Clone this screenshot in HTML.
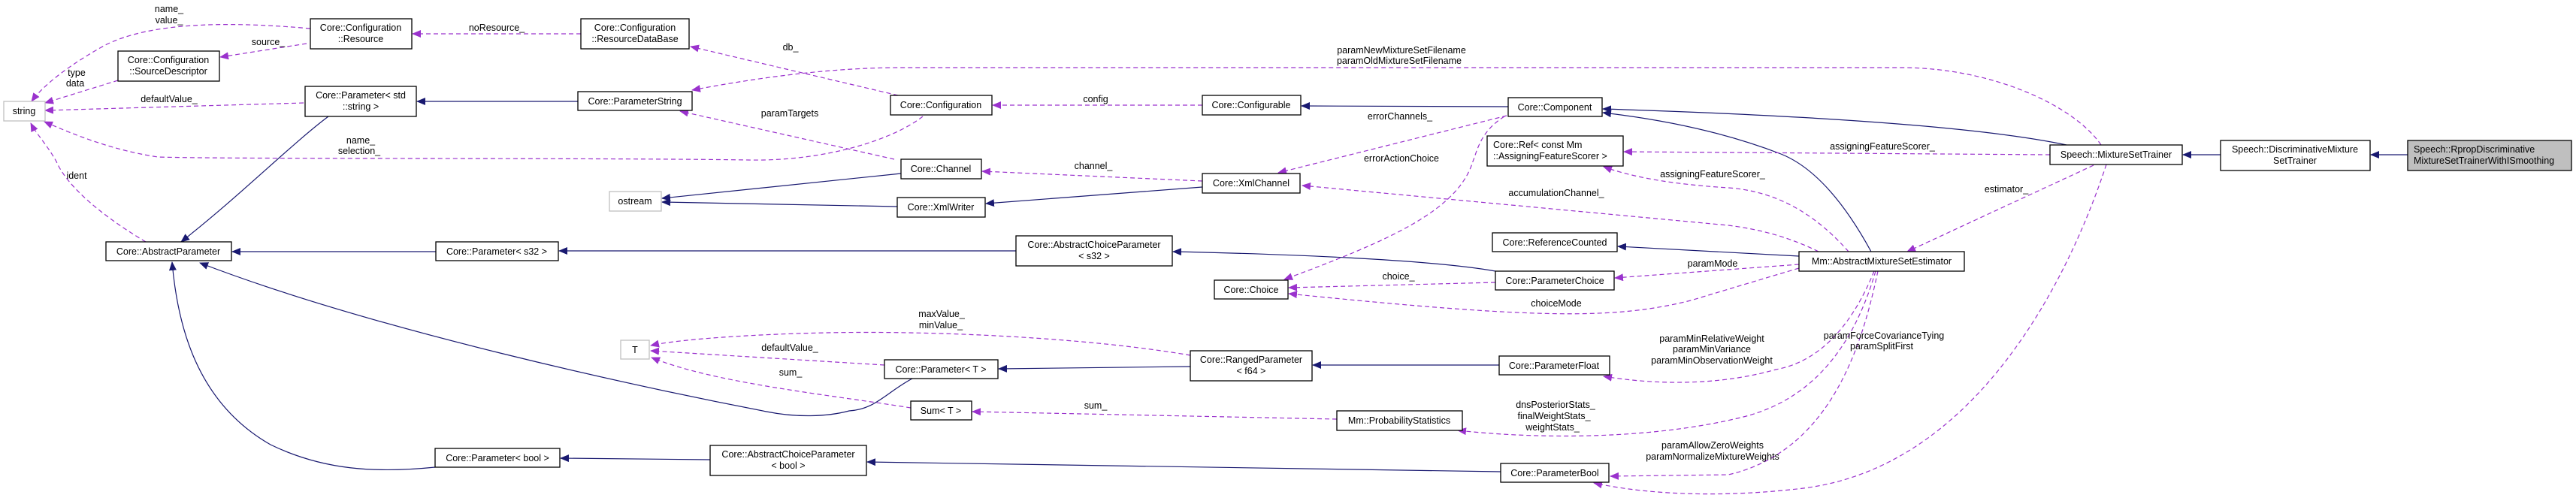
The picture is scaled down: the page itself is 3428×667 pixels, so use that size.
<!DOCTYPE html>
<html><head><meta charset="utf-8"><style>
html,body{margin:0;padding:0;background:#fff;}
svg{display:block;}
text{font-family:"Liberation Sans",Helvetica,Arial,sans-serif;font-size:12.5px;fill:#000;}
.n{fill:#fff;stroke:#000;stroke-width:1.3;}
.g{fill:#fff;stroke:#bfbfbf;stroke-width:1.3;}
.s{fill:none;stroke:#191970;stroke-width:1.2;}
.d{fill:none;stroke:#9a32cd;stroke-width:1.2;stroke-dasharray:6,4;}
</style></head><body>
<svg width="3428" height="667" viewBox="0 0 3428 667" xmlns="http://www.w3.org/2000/svg">
<defs>
<marker id="as" markerWidth="12" markerHeight="10" refX="11" refY="5" orient="auto" markerUnits="userSpaceOnUse"><path d="M0,0 L12,5 L0,10 z" fill="#191970"/></marker>
<marker id="ad" markerWidth="12" markerHeight="10" refX="11" refY="5" orient="auto" markerUnits="userSpaceOnUse"><path d="M0,0 L12,5 L0,10 z" fill="#9a32cd"/></marker>
</defs>

<!-- solid inheritance edges -->
<g class="s" marker-end="url(#as)">
<path d="M437,155 C390,190 320,260 241,322"/>
<path d="M769,135 L555,135"/>
<path d="M580,335 L309,335"/>
<path d="M1214,504 C1180,522 1165,545 1130,547 C1100,555 1060,556 1020,548 C850,515 500,440 266,350"/>
<path d="M579,622 C500,630 430,626 360,592 C260,535 236,430 229,349"/>
<path d="M1352,334 L744,334"/>
<path d="M1199,231 L881,264"/>
<path d="M1194,275 L881,269"/>
<path d="M1600,249 L1312,271"/>
<path d="M2007,142 L1732,141"/>
<path d="M2750,193 C2650,172 2450,155 2133,145"/>
<path d="M2490,335 C2460,280 2420,225 2370,205 C2300,178 2220,160 2133,150"/>
<path d="M2394,341 L2153,328"/>
<path d="M1990,361 C1900,345 1700,338 1561,335"/>
<path d="M1584,488 L1329,491"/>
<path d="M1995,486 L1747,486"/>
<path d="M945,612 L746,610"/>
<path d="M1997,628 L1154,615"/>
<path d="M2955,206 L2905,206"/>
<path d="M3204,206 L3155,206"/>
</g>

<!-- dashed usage edges -->
<g class="d" marker-end="url(#ad)">
<path d="M413,38 C300,28 200,30 140,60 C100,82 60,110 42,135"/>
<path d="M408,58 L293,76"/>
<path d="M157,107 L60,137"/>
<path d="M404,137 L60,147"/>
<path d="M1228,155 C1190,185 1100,215 996,213 C800,210 300,212 210,209 C150,200 100,180 59,162"/>
<path d="M194,322 C140,290 90,250 75,215 C62,192 48,178 41,164"/>
<path d="M773,45 L549,45"/>
<path d="M1195,127 L919,62"/>
<path d="M2796,193 C2760,140 2650,90 2530,90 L1200,90 C1100,90 1000,105 921,120"/>
<path d="M1190,212 L905,148"/>
<path d="M1600,140 L1321,140"/>
<path d="M1600,241 L1307,228"/>
<path d="M2005,154 L1701,230"/>
<path d="M2002,155 C1970,175 1966,200 1960,215 C1940,280 1850,320 1709,372"/>
<path d="M2460,335 C2420,290 2370,255 2300,250 C2220,245 2170,235 2134,222"/>
<path d="M2728,206 L2161,202"/>
<path d="M2786,220 L2538,335"/>
<path d="M2420,335 C2380,315 2340,305 2300,300 L1733,247"/>
<path d="M1990,376 L1715,383"/>
<path d="M2394,357 C2350,370 2300,385 2250,400 C2150,425 2050,425 1715,391"/>
<path d="M2394,352 L2149,370"/>
<path d="M1584,473 C1450,450 1250,440 1100,443 C1000,445 900,452 866,460"/>
<path d="M1177,486 L866,467"/>
<path d="M1212,543 C1100,525 950,510 867,476"/>
<path d="M1779,558 L1294,548"/>
<path d="M2494,361 C2470,420 2430,480 2363,492 C2300,510 2220,515 2134,501"/>
<path d="M2496,361 C2470,450 2420,530 2320,555 C2200,585 2050,585 1940,573"/>
<path d="M2499,361 C2480,450 2440,600 2300,632 L2143,634"/>
<path d="M2803,219 C2760,350 2640,620 2400,650 C2300,662 2200,660 2121,643"/>
</g>

<!-- edge labels -->
<g text-anchor="middle">
<text x="225" y="16">name_</text><text x="225" y="31">value_</text>
<text x="357" y="60">source_</text>
<text x="102" y="101">type</text><text x="100" y="115">data</text>
<text x="225" y="136">defaultValue_</text>
<text x="480" y="191">name_</text><text x="478" y="205">selection_</text>
<text x="102" y="238">ident</text>
<text x="661" y="41">noResource_</text>
<text x="1052" y="67">db_</text>
<text x="1865" y="71">paramNewMixtureSetFilename</text><text x="1862" y="85">paramOldMixtureSetFilename</text>
<text x="1051" y="155">paramTargets</text>
<text x="1458" y="136">config</text>
<text x="1455" y="225">channel_</text>
<text x="1863" y="159">errorChannels_</text>
<text x="1865" y="215">errorActionChoice</text>
<text x="2279" y="236">assigningFeatureScorer_</text>
<text x="2505" y="199">assigningFeatureScorer_</text>
<text x="2670" y="256">estimator_</text>
<text x="2071" y="261">accumulationChannel_</text>
<text x="1861" y="372">choice_</text>
<text x="2071" y="408">choiceMode</text>
<text x="2279" y="355">paramMode</text>
<text x="1253" y="422">maxValue_</text><text x="1252" y="437">minValue_</text>
<text x="1051" y="467">defaultValue_</text>
<text x="1052" y="500">sum_</text>
<text x="1458" y="544">sum_</text>
<text x="2278" y="455">paramMinRelativeWeight</text><text x="2278" y="469">paramMinVariance</text><text x="2278" y="484">paramMinObservationWeight</text>
<text x="2070" y="543">dnsPosteriorStats_</text><text x="2068" y="558">finalWeightStats_</text><text x="2066" y="573">weightStats_</text>
<text x="2279" y="597">paramAllowZeroWeights</text><text x="2279" y="612">paramNormalizeMixtureWeights</text>
<text x="2507" y="451">paramForceCovarianceTying</text><text x="2504" y="465">paramSplitFirst</text>
</g>

<!-- nodes -->
<rect class="g" x="5" y="135" width="55" height="26"/>
<rect class="n" x="413" y="25" width="135" height="40"/>
<rect class="n" x="157" y="68" width="135" height="40"/>
<rect class="n" x="406" y="115" width="148" height="40"/>
<rect class="n" x="141" y="322" width="167" height="25"/>
<rect class="n" x="580" y="322" width="163" height="25"/>
<rect class="n" x="579" y="597" width="166" height="25"/>
<rect class="n" x="773" y="25" width="144" height="40"/>
<rect class="n" x="769" y="122" width="152" height="25"/>
<rect class="n" x="1185" y="127" width="135" height="26"/>
<rect class="n" x="1199" y="212" width="107" height="26"/>
<rect class="g" x="811" y="255" width="69" height="26"/>
<rect class="n" x="1194" y="263" width="117" height="26"/>
<rect class="n" x="1352" y="314" width="208" height="40"/>
<rect class="g" x="826" y="453" width="38" height="25"/>
<rect class="n" x="1177" y="479" width="151" height="25"/>
<rect class="n" x="1212" y="534" width="81" height="25"/>
<rect class="n" x="945" y="593" width="208" height="40"/>
<rect class="n" x="1600" y="127" width="131" height="26"/>
<rect class="n" x="2007" y="130" width="125" height="25"/>
<rect class="n" x="1979" y="181" width="181" height="40"/>
<rect class="n" x="1600" y="231" width="130" height="26"/>
<rect class="n" x="1986" y="310" width="166" height="25"/>
<rect class="n" x="1616" y="373" width="98" height="25"/>
<rect class="n" x="1990" y="361" width="158" height="25"/>
<rect class="n" x="1584" y="467" width="162" height="40"/>
<rect class="n" x="1995" y="474" width="147" height="25"/>
<rect class="n" x="1779" y="547" width="167" height="26"/>
<rect class="n" x="1997" y="617" width="144" height="25"/>
<rect class="n" x="2728" y="193" width="176" height="26"/>
<rect class="n" x="2955" y="187" width="199" height="40"/>
<rect x="3204" y="187" width="218" height="40" fill="#bfbfbf" stroke="#000" stroke-width="1.3"/>
<rect class="n" x="2394" y="335" width="220" height="26"/>

<g text-anchor="middle">
<text x="32" y="152">string</text>
<text x="480" y="41">Core::Configuration</text><text x="480" y="56">::Resource</text>
<text x="224" y="84">Core::Configuration</text><text x="224" y="99">::SourceDescriptor</text>
<text x="480" y="131">Core::Parameter&lt; std</text><text x="480" y="146">::string &gt;</text>
<text x="224" y="339">Core::AbstractParameter</text>
<text x="661" y="339">Core::Parameter&lt; s32 &gt;</text>
<text x="662" y="614">Core::Parameter&lt; bool &gt;</text>
<text x="845" y="41">Core::Configuration</text><text x="845" y="56">::ResourceDataBase</text>
<text x="845" y="139">Core::ParameterString</text>
<text x="1252" y="144">Core::Configuration</text>
<text x="1252" y="229">Core::Channel</text>
<text x="845" y="272">ostream</text>
<text x="1252" y="280">Core::XmlWriter</text>
<text x="1456" y="330">Core::AbstractChoiceParameter</text><text x="1456" y="345">&lt; s32 &gt;</text>
<text x="845" y="470">T</text>
<text x="1252" y="496">Core::Parameter&lt; T &gt;</text>
<text x="1252" y="551">Sum&lt; T &gt;</text>
<text x="1049" y="609">Core::AbstractChoiceParameter</text><text x="1049" y="624">&lt; bool &gt;</text>
<text x="1665" y="144">Core::Configurable</text>
<text x="2069" y="147">Core::Component</text>
<text x="1665" y="248">Core::XmlChannel</text>
<text x="2069" y="327">Core::ReferenceCounted</text>
<text x="1665" y="390">Core::Choice</text>
<text x="2069" y="378">Core::ParameterChoice</text>
<text x="1665" y="483">Core::RangedParameter</text><text x="1665" y="498">&lt; f64 &gt;</text>
<text x="2068" y="491">Core::ParameterFloat</text>
<text x="1862" y="564">Mm::ProbabilityStatistics</text>
<text x="2069" y="634">Core::ParameterBool</text>
<text x="2816" y="210">Speech::MixtureSetTrainer</text>
<text x="3054" y="203">Speech::DiscriminativeMixture</text><text x="3054" y="218">SetTrainer</text>
<text x="2504" y="352">Mm::AbstractMixtureSetEstimator</text>
</g>
<text x="1987" y="197">Core::Ref&lt; const Mm</text><text x="1987" y="212">::AssigningFeatureScorer &gt;</text>
<text x="3212" y="203">Speech::RpropDiscriminative</text><text x="3212" y="218">MixtureSetTrainerWithISmoothing</text>
</svg>
</body></html>
